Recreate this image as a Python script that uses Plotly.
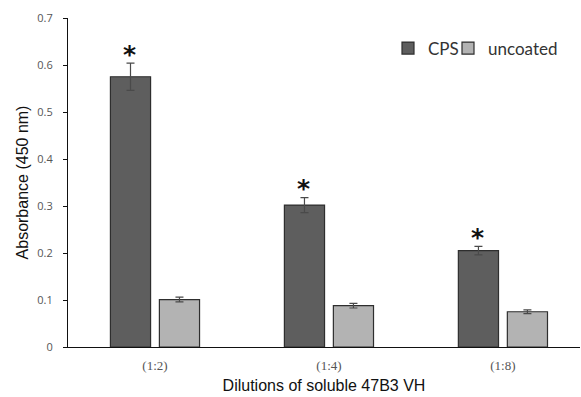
import plotly.graph_objects as go

categories = ["(1:2)", "(1:4)", "(1:8)"]
cps = [0.575, 0.302, 0.205]
cps_err = [0.029, 0.016, 0.009]
uncoated = [0.101, 0.088, 0.075]
uncoated_err = [0.005, 0.005, 0.004]
y_ticks = [0, 0.1, 0.2, 0.3, 0.4, 0.5, 0.6, 0.7]
y_ticktext = ["0", "0.1", "0.2", "0.3", "0.4", "0.5", "0.6", "0.7"]

fig = go.Figure()
fig.add_trace(go.Bar(
    name="CPS", x=categories, y=cps, legend="legend",
    marker=dict(color="#5e5e5e", line=dict(color="#2e2e2e", width=1.2)),
    error_y=dict(type="data", array=cps_err, color="#4a4a4a", thickness=1.2, width=4),
))
fig.add_trace(go.Bar(
    name="uncoated", x=categories, y=uncoated, legend="legend2",
    marker=dict(color="#b3b3b3", line=dict(color="#2e2e2e", width=1.2)),
    error_y=dict(type="data", array=uncoated_err, color="#4a4a4a", thickness=1.2, width=4),
))

for c, v, e in zip(categories, cps, cps_err):
    fig.add_annotation(x=c, y=v + e, xref="x", yref="y", text="<b>*</b>", showarrow=False,
                       xshift=-25, yshift=9, yanchor="middle",
                       font=dict(family="DejaVu Sans", size=25, color="#111111"))

leg_font = dict(family="Lato", size=17, color="#333333")
fig.update_layout(
    width=581, height=397,
    margin=dict(l=68, r=1, t=18, b=50),
    paper_bgcolor="white", plot_bgcolor="white",
    barmode="group", bargap=0.437, bargroupgap=0.18,
    showlegend=True,
    legend=dict(x=(388 - 68) / 512, y=0.962, xanchor="left", yanchor="top",
                font=leg_font, itemwidth=30, bgcolor="rgba(0,0,0,0)"),
    legend2=dict(x=(448 - 68) / 512, y=0.962, xanchor="left", yanchor="top",
                 font=leg_font, itemwidth=30, bgcolor="rgba(0,0,0,0)"),
    font=dict(family="Liberation Sans"),
)
fig.update_xaxes(
    range=[-0.5, 2.443], showline=True, linecolor="#111111", linewidth=1.2,
    ticks="", showgrid=False, ticklabelstandoff=6,
    tickfont=dict(family="Liberation Serif", size=13, color="#555555"),
    title=dict(text="Dilutions of soluble 47B3 VH", font=dict(family="Liberation Sans", size=16, color="#111111"), standoff=8),
)
fig.update_yaxes(
    range=[0, 0.7], tickvals=y_ticks, ticktext=y_ticktext,
    showline=True, linecolor="#111111", linewidth=1.2,
    ticks="outside", ticklen=4, tickcolor="#111111", showgrid=False, zeroline=False,
    ticklabelstandoff=8,
    tickfont=dict(family="Open Sans", size=11, color="#555555"),
    title=dict(text="Absorbance (450 nm)", font=dict(family="Liberation Sans", size=16, color="#111111"), standoff=4),
)
fig.write_html("out.html")
